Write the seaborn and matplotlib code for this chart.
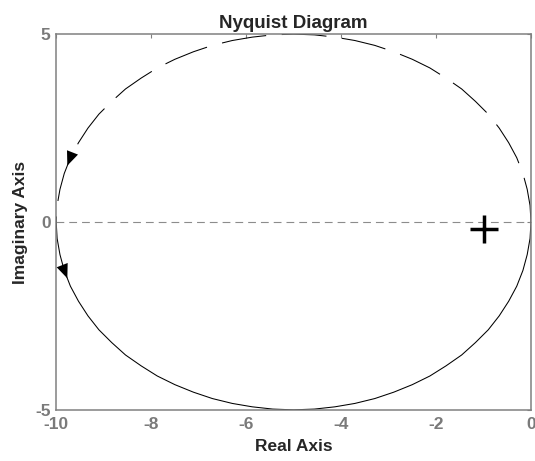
import matplotlib

matplotlib.use("Agg")
import matplotlib.pyplot as plt
import seaborn as sns

# Nyquist curve: upper (dashed) branch from 0 over the top to -10,
# lower (solid) branch from -10 under the bottom back to 0.
upper_re = [0.00, -0.02, -0.08, -0.17, -0.30, -0.47, -0.67, -0.90, -1.17, -1.46,
            -1.79, -2.13, -2.50, -2.89, -3.29, -3.71, -4.13, -4.56, -5.00, -5.44,
            -5.87, -6.29, -6.71, -7.11, -7.50, -7.87, -8.21, -8.54, -8.83, -9.10,
            -9.33, -9.53, -9.70, -9.83, -9.92, -9.98, -10.00]
upper_im = [0.00, 0.44, 0.87, 1.29, 1.71, 2.11, 2.50, 2.87, 3.21, 3.54,
            3.83, 4.10, 4.33, 4.53, 4.70, 4.83, 4.92, 4.98, 5.00, 4.98,
            4.92, 4.83, 4.70, 4.53, 4.33, 4.10, 3.83, 3.54, 3.21, 2.87,
            2.50, 2.11, 1.71, 1.29, 0.87, 0.44, 0.00]
lower_re = [-10.00, -9.98, -9.92, -9.83, -9.70, -9.53, -9.33, -9.10, -8.83, -8.54,
            -8.21, -7.87, -7.50, -7.11, -6.71, -6.29, -5.87, -5.44, -5.00, -4.56,
            -4.13, -3.71, -3.29, -2.89, -2.50, -2.13, -1.79, -1.46, -1.17, -0.90,
            -0.67, -0.47, -0.30, -0.17, -0.08, -0.02, 0.00]
lower_im = [0.00, -0.44, -0.87, -1.29, -1.71, -2.11, -2.50, -2.87, -3.21, -3.54,
            -3.83, -4.10, -4.33, -4.53, -4.70, -4.83, -4.92, -4.98, -5.00, -4.98,
            -4.92, -4.83, -4.70, -4.53, -4.33, -4.10, -3.83, -3.54, -3.21, -2.87,
            -2.50, -2.11, -1.71, -1.29, -0.87, -0.44, 0.00]
crit_re = [-1.0]
crit_im = [-0.2]
x_ticks = [-10, -8, -6, -4, -2, 0]
y_ticks = [-5, 0, 5]

sns.set_theme(style="white")
plt.rcParams["font.family"] = ["Liberation Sans", "DejaVu Sans"]
plt.rcParams["font.weight"] = "bold"
plt.rcParams["axes.unicode_minus"] = False

fig = plt.figure(figsize=(5.35, 4.61), dpi=100)
ax = fig.add_axes([0.105, 0.111, 0.8875, 0.815])

ax.axhline(0, color="#8c8c8c", lw=0.8, linestyle=(0, (7, 4.5)), zorder=1)
sns.lineplot(x=upper_re, y=upper_im, sort=False, ax=ax, color="black", lw=0.75,
             linestyle=(0, (43, 15)), estimator=None)
sns.lineplot(x=lower_re, y=lower_im, sort=False, ax=ax, color="black", lw=0.75,
             estimator=None)
sns.scatterplot(x=crit_re, y=crit_im, ax=ax, marker="+", s=380, color="black",
                linewidth=2.5, zorder=5)

# direction arrows, taken from consecutive curve points
for re, im, i in [(upper_re, upper_im, 32), (lower_re, lower_im, 3)]:
    tip = ((re[i] + re[i + 1]) / 2, (im[i] + im[i + 1]) / 2)
    ax.annotate("", xy=tip, xytext=(re[i], im[i]),
                arrowprops=dict(arrowstyle="-|>,head_length=0.6,head_width=0.25",
                                mutation_scale=17, color="black", lw=0,
                                shrinkA=0, shrinkB=0))

ax.set_xlim(-10, 0)
ax.set_ylim(-5, 5)
ax.set_xticks(x_ticks)
ax.set_yticks(y_ticks)
ax.tick_params(direction="in", length=3, width=0.8, colors="#808080",
               labelcolor="#7a7a7a", labelsize=12.5, top=True, right=True)
ax.tick_params(axis="x", pad=5.5)
ax.tick_params(axis="y", pad=4)
for lab in ax.get_xticklabels() + ax.get_yticklabels():
    lab.set_fontweight("bold")
for sp in ax.spines.values():
    sp.set_color("#808080")
    sp.set_linewidth(1.1)

ax.set_title("Nyquist Diagram", fontsize=13.5, fontweight="bold", pad=4.5)
ax.set_xlabel("Real Axis", fontsize=12.5, fontweight="bold", labelpad=5)
ax.set_ylabel("Imaginary Axis", fontsize=12.5, fontweight="bold", labelpad=5)

fig.savefig("out.png", dpi=100)
